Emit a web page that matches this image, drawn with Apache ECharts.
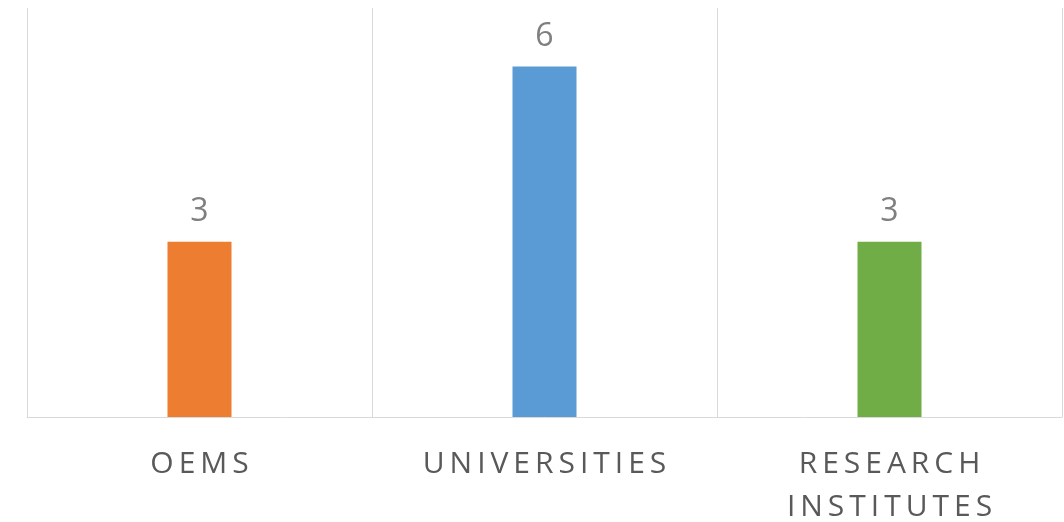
<!DOCTYPE html>
<html>
<head>
<meta charset="utf-8">
<script src="https://cdn.jsdelivr.net/npm/echarts@6/dist/echarts.min.js"></script>
<style>
    html, body { margin: 0; padding: 0; background: #fff; }
    #chart { width: 1064px; height: 522px; }
</style>
</head>
<body>
<div id="chart"></div>
<script>
    // 数据
    var categories = ['OEMS', 'UNIVERSITIES', 'RESEARCH INSTITUTES'];
    var values = [3, 6, 3];
    var barColors = ['#ED7D31', '#5B9BD5', '#70AD47'];

    // letter spaced label, line break between words
    function spaced(str) {
        return str.split(' ').map(function (w) {
            return w.split('').join('\u2009');
        }).join('\n');
    }

    var chart = echarts.init(document.getElementById('chart'));
    chart.setOption({
        animation: false,
        grid: { left: 27, right: 2, top: 8, bottom: 105, outerBoundsMode: 'none', containLabel: false },
        xAxis: {
            type: 'category',
            data: categories,
            axisLine: { lineStyle: { color: '#d9d9d9', width: 1 } },
            axisTick: { show: false },
            splitLine: { show: true, lineStyle: { color: '#d9d9d9', width: 1 } },
            axisLabel: {
                interval: 0,
                margin: 26,
                color: '#595959',
                fontFamily: 'Open Sans',
                fontSize: 30,
                lineHeight: 43,
                formatter: spaced
            }
        },
        yAxis: {
            type: 'value',
            min: 0,
            max: 7,
            show: false
        },
        series: [{
            type: 'bar',
            barWidth: 64,
            data: values.map(function (v, i) {
                return { value: v, itemStyle: { color: barColors[i] } };
            }),
            label: {
                show: true,
                position: 'top',
                distance: 14,
                color: '#7f7f7f',
                fontFamily: 'Open Sans',
                fontSize: 32
            }
        }]
    });
</script>
</body>
</html>
